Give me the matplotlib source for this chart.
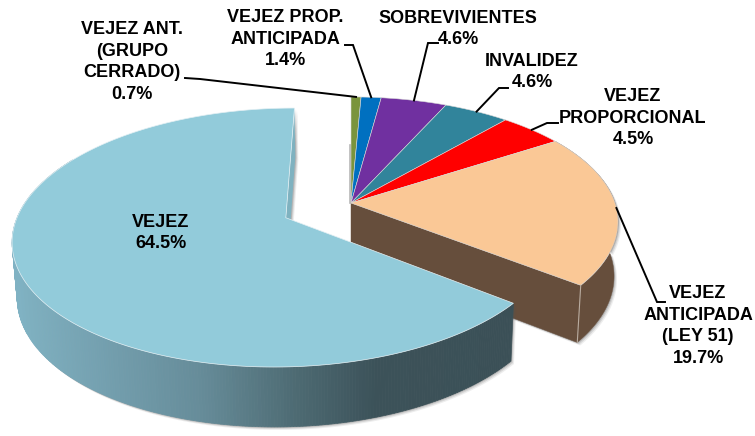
import matplotlib
matplotlib.use('Agg')
import matplotlib.pyplot as plt
from matplotlib.patches import Polygon
import numpy as np

labels = ['VEJEZ ANT.\n(GRUPO\nCERRADO)', 'VEJEZ PROP.\nANTICIPADA', 'SOBREVIVIENTES', 'INVALIDEZ',
          'VEJEZ\nPROPORCIONAL', 'VEJEZ\nANTICIPADA\n(LEY 51)', 'VEJEZ']
values = [0.7, 1.4, 4.6, 4.6, 4.5, 19.7, 64.5]
colors = ['#7a943c', '#0070c0', '#7030a0', '#31849b', '#ff0000', '#fac896', '#92cbda']

# label centre, then the elbow of the leader line (in pixels of the picture)
label_pos = [(132, 62), (285, 39), (458, 29), (532, 72), (633, 118), (698, 326), (161, 233)]
elbows = [[(200, 79), (185, 78)], [(353, 45), (345, 45)], [(428, 43), (438, 43)], [(499, 88), (508, 88)],
          [(547, 123), (558, 123)], [(657, 302), (665, 302)], None]

# perspective of the disc
cx, cy = 351, 203
rx, ry = 264, 122
k = 0.15
explode = 0.27
x_shrink = 0.985


def project(X, Y):
    w = 1 + k * Y
    return cx + rx * X / w, cy - ry * Y / w


def depth(X, Y):
    w = 1 + k * Y
    return 60 - 36.7 * (w - 0.83)


def down(X, Y):
    x, y = project(X, Y)
    return cx + (x - cx) * x_shrink, y + depth(X, Y)


def arc(t0, t1, ox=0, oy=0, n=200):
    t = np.linspace(t0, t1, n)
    return ox + np.sin(t), oy + np.cos(t)


def shadow(ax, xs, ys):
    for dx, dy, a in [(3, 3, 0.10), (2, 2, 0.16), (1, 1, 0.25)]:
        ax.add_patch(Polygon(np.c_[xs + dx, ys + dy], fc='#555555', ec='none', alpha=a))


total = sum(values)
edges = 2 * np.pi * np.cumsum([0] + values) / total

fig = plt.figure(figsize=(7.55, 4.36), dpi=100)
ax = fig.add_axes([0, 0, 1, 1])
ax.set_xlim(0, 755)
ax.set_ylim(436, 0)
ax.axis('off')

# peach slice: walls first
brown = '#664e3c'
a0, a1 = edges[5], edges[6]
X, Y = arc(a0, a1)
tx, ty = project(X, Y)
bx, by = down(X, Y)
ox, oy = down(np.array([0.0]), np.array([0.0]))
outer_x, outer_y = np.r_[tx, bx[::-1]], np.r_[ty, by[::-1]]
inner_x = np.r_[cx, tx[-1], bx[-1], ox]
inner_y = np.r_[cy, ty[-1], by[-1], oy]
shadow(ax, outer_x, outer_y)
shadow(ax, inner_x, inner_y)
ax.add_patch(Polygon(np.c_[outer_x, outer_y], fc=brown, ec=brown, lw=0.3))
ax.add_patch(Polygon(np.c_[inner_x, inner_y], fc=brown, ec=brown, lw=0.3))
ax.plot([tx[-1], bx[-1]], [ty[-1], by[-1]], color='#b9aca0', lw=0.8)
ax.plot([cx - 1, cx - 1], [145, 203], color='#999999', lw=1.2, alpha=0.7)

# top faces of the closed part
for i in range(6):
    X, Y = arc(edges[i], edges[i + 1], n=80)
    px, py = project(X, Y)
    ax.add_patch(Polygon(np.c_[np.r_[cx, px], np.r_[cy, py]], fc=colors[i], ec='#d8d8d8', lw=0.4))

# exploded slice
mid = (edges[6] + edges[7]) / 2
ox, oy = explode * np.sin(mid), explode * np.cos(mid)
a0, a1 = edges[6], edges[7]
X, Y = arc(a0, a1, ox, oy, n=400)
tx, ty = project(X, Y)
bx, by = down(X, Y)

keep = a0 + (a1 - a0) * np.linspace(0, 1, 400) < np.radians(300)
shadow(ax, np.r_[tx[keep], bx[keep][::-1]], np.r_[ty[keep], by[keep][::-1]])

# wall with its horizontal gradient
stop_x = [16, 70, 200, 300, 375, 515]
stop_c = np.array([[0x80, 0xb2, 0xc3], [0x78, 0xa6, 0xb6], [0x66, 0x8c, 0x99], [0x4c, 0x69, 0x71],
                   [0x3c, 0x52, 0x59], [0x3b, 0x50, 0x57]]) / 255
for i in np.where(keep)[0][:-1]:
    c = [np.interp((tx[i] + tx[i + 1]) / 2, stop_x, stop_c[:, j]) for j in range(3)]
    q = [(tx[i], ty[i]), (tx[i + 1], ty[i + 1]), (bx[i + 1], by[i + 1]), (bx[i], by[i])]
    ax.add_patch(Polygon(q, fc=c, ec=c, lw=0.5))

# inner wall seen at the back
X0, Y0 = np.array([ox, X[-1]]), np.array([oy, Y[-1]])
p0x, p0y = project(X0, Y0)
p1x, p1y = down(X0, Y0)
wx = np.array([p0x[1], p0x[0], p1x[0], p1x[1]])
wy = np.array([p0y[1], p0y[0], p1y[0], p1y[1]])
shadow(ax, wx, wy)
ax.add_patch(Polygon(np.c_[wx, wy], fc='#7fb2c0', ec='none'))

ax_x, ax_y = project(np.array([ox]), np.array([oy]))
ax.add_patch(Polygon(np.c_[np.r_[ax_x, tx], np.r_[ax_y, ty]], fc=colors[6], ec='#e4f0f4', lw=0.5))

# leaders and labels
for i, (lab, val) in enumerate(zip(labels, values)):
    if elbows[i] is not None:
        m = (edges[i] + edges[i + 1]) / 2
        ax_pt = project(np.sin(m), np.cos(m))
        pts = [ax_pt] + elbows[i]
        ax.plot([p[0] for p in pts], [p[1] for p in pts], color='black', lw=1.4, solid_joinstyle='miter')
    ax.text(label_pos[i][0], label_pos[i][1], f'{lab}\n{val}%', ha='center', va='center', ma='center',
            family='Liberation Sans', weight='bold', fontsize=13, color='black', linespacing=1.36)

fig.savefig('out.png', dpi=100)
